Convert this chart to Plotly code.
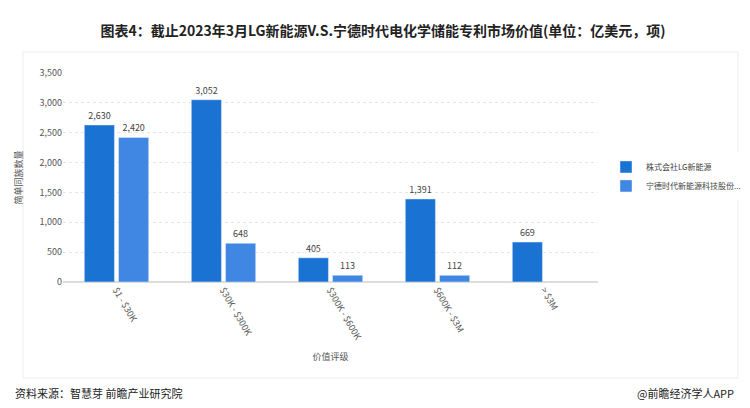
import plotly.graph_objects as go

categories = ["$1 - $30K", "$30K - $300K", "$300K - $600K", "$600K - $3M", "> $3M"]
lg_values = [2630, 3052, 405, 1391, 669]
catl_values = [2420, 648, 113, 112, None]
series_names = ["株式会社LG新能源", "宁德时代新能源科技股份..."]

font = "Noto Sans CJK SC"
fig = go.Figure()
for name, vals, color in [(series_names[0], lg_values, "#1a73d2"), (series_names[1], catl_values, "#3f87e3")]:
    fig.add_trace(go.Bar(
        x=categories, y=vals, name=name, marker_color=color,
        text=[f"{v:,}" if v is not None else "" for v in vals],
        textposition="outside", textfont=dict(size=9, color="#444"),
        cliponaxis=False,
    ))

# plot area: x 55..590 px, y 65..274 px
pw = 535
def px(x):
    return (x - 55) / pw

fig.update_layout(
    width=750, height=408, paper_bgcolor="white", plot_bgcolor="white",
    font=dict(family=font, size=9, color="#555"),
    margin=dict(l=55, r=160, t=65, b=134, autoexpand=False),
    barmode="group", bargap=0.36, bargroupgap=0.12,
    title=dict(text="<b>图表4：截止2023年3月LG新能源V.S.宁德时代电化学储能专利市场价值(单位：亿美元，项)</b>",
               x=0.5, y=0.955, xref="container", xanchor="center", font=dict(size=14, color="#222")),
    legend=dict(x=px(598), y=0.62, xanchor="left", yanchor="top", font=dict(size=8, color="#444"),
                itemwidth=30, tracegroupgap=6),
    xaxis=dict(tickangle=60, showline=False, ticks="",
               title=dict(text="价值评级", font=dict(size=9, color="#555"), standoff=12)),
    yaxis=dict(range=[0, 3500], dtick=500, tickformat=",", gridcolor="#e6e6e6", griddash="dot",
               zeroline=True, zerolinecolor="#ddd",
               title=dict(text="简单同族数量", font=dict(size=9, color="#555"))),
)
fig.add_shape(type="rect", xref="paper", yref="paper", x0=px(15), x1=px(730), y0=-0.46, y1=1.1,
              line=dict(color="#eeeeee", width=1), layer="below")
fig.add_annotation(text="资料来源：智慧芽 前瞻产业研究院", xref="paper", yref="paper", x=px(5), y=-0.53,
                   xanchor="left", yanchor="middle", showarrow=False, font=dict(size=11, color="#222"))
fig.add_annotation(text="@前瞻经济学人APP", xref="paper", yref="paper", x=px(728), y=-0.53,
                   xanchor="right", yanchor="middle", showarrow=False, font=dict(size=11, color="#222"))
fig.write_html("out.html")
